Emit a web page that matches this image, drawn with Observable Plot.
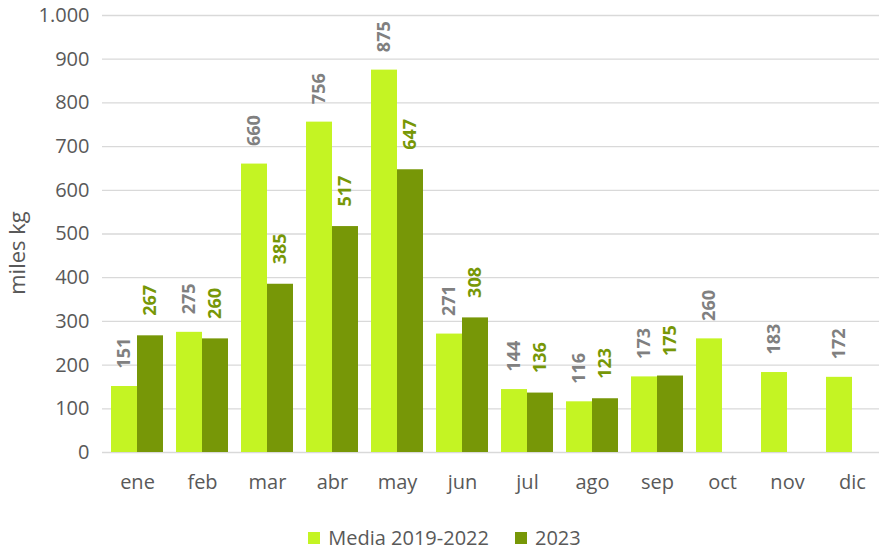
<!DOCTYPE html>
<html>
<head>
<meta charset="utf-8">
<script src="https://cdn.jsdelivr.net/npm/d3@7"></script>
<script src="https://cdn.jsdelivr.net/npm/@observablehq/plot@0.6"></script>
<style>
  html, body { margin: 0; padding: 0; background: #fff; }
  body { width: 879px; height: 550px; overflow: hidden; font-family: "Open Sans", sans-serif; }
  #wrap { position: relative; width: 879px; height: 505px; }
  #wrap svg { position: absolute; left: 0; top: 0; }
  #legend { display: flex; justify-content: center; align-items: center; padding-left: 10px; padding-top: 22px; font-size: 20px; line-height: 22px; color: #595959; }
  .sw { display: inline-block; width: 12px; height: 12px; margin-right: 8px; }
  .item { display: flex; align-items: center; margin: 0 13px; }
</style>
</head>
<body>
<div id="wrap"></div>
<div id="legend"></div>
<script>
const months = ["ene","feb","mar","abr","may","jun","jul","ago","sep","oct","nov","dic"];
const seriesNames = ["Media 2019-2022", "2023"];
const media = [151, 275, 660, 756, 875, 271, 144, 116, 173, 260, 183, 172];
const y2023 = [267, 260, 385, 517, 647, 308, 136, 123, 175, null, null, null];
const yTicks = [0,100,200,300,400,500,600,700,800,900,1000];
const yLabel = "miles kg";
const colors = ["#C4F423", "#779707"];
const labelColors = ["#808080", "#779707"];

const data = [];
months.forEach((m, i) => {
  data.push({month: m, series: seriesNames[0], value: media[i]});
  if (y2023[i] != null) data.push({month: m, series: seriesNames[1], value: y2023[i]});
});

const esLocale = d3.formatLocale({decimal: ",", thousands: ".", grouping: [3], currency: ["", " €"]});
const fmt = esLocale.format(",");

const common = {
  width: 879,
  height: 505,
  marginTop: 15,
  marginBottom: 53,
  marginLeft: 102,
  marginRight: 0,
  style: {fontFamily: "Open Sans, sans-serif", fontSize: "20px", color: "#595959", background: "transparent"}
};

// background gridlines spanning the whole plot width
const grid = Plot.plot({
  ...common,
  y: {domain: [0, 1000], axis: null},
  marks: [Plot.ruleY(yTicks, {stroke: "#D9D9D9", strokeWidth: 1.3})]
});

const chart = Plot.plot({
  ...common,
  fx: {domain: months, range: [101, 888], paddingInner: 0.2, paddingOuter: 0.1, label: null, tickSize: 0, tickPadding: 22},
  x: {domain: seriesNames, padding: 0, axis: null},
  y: {domain: [0, 1000]},
  color: {domain: seriesNames, range: colors},
  marks: [
    Plot.axisY({ticks: yTicks, tickFormat: fmt, tickSize: 0, tickPadding: 22, fontSize: 20, label: null}),
    Plot.text([yLabel], {facet: "super", frameAnchor: "left", rotate: -90, dx: -94, dy: 19,
      text: d => d, fontSize: 22, fill: "#595959", textAnchor: "middle", lineAnchor: "middle"}),
    Plot.barY(data, {fx: "month", x: "series", y: "value", fill: "series"}),
    Plot.text(data.filter(d => d.series === seriesNames[0]), {
      fx: "month", x: "series", y: "value", text: d => fmt(d.value),
      rotate: -90, textAnchor: "start", lineAnchor: "middle", dy: -18,
      fill: labelColors[0], fontWeight: "bold", fontSize: 18
    }),
    Plot.text(data.filter(d => d.series === seriesNames[1]), {
      fx: "month", x: "series", y: "value", text: d => fmt(d.value),
      rotate: -90, textAnchor: "start", lineAnchor: "middle", dy: -20,
      fill: labelColors[1], fontWeight: "bold", fontSize: 18
    })
  ]
});
const wrap = document.getElementById("wrap");
wrap.appendChild(grid);
wrap.appendChild(chart);

const legend = document.getElementById("legend");
seriesNames.forEach((s, i) => {
  const item = document.createElement("span");
  item.className = "item";
  const sw = document.createElement("span");
  sw.className = "sw";
  sw.style.background = colors[i];
  item.appendChild(sw);
  item.appendChild(document.createTextNode(s));
  legend.appendChild(item);
});
</script>
</body>
</html>
